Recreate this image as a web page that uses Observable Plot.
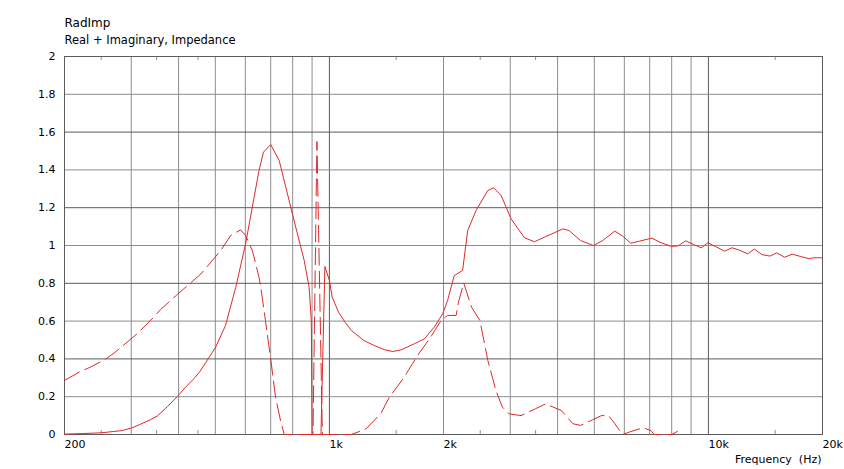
<!DOCTYPE html>
<html>
<head>
<meta charset="utf-8">
<script src="https://cdn.jsdelivr.net/npm/d3@7"></script>
<script src="https://cdn.jsdelivr.net/npm/@observablehq/plot@0.6"></script>
<style>
  html, body { margin: 0; padding: 0; background: #fff; }
  svg { font-family: "DejaVu Sans", sans-serif; }
</style>
</head>
<body>
<div id="chart"></div>
<script>
// Real part (solid)
const realFreq = [200,223,250,270,284,301,316,337,351,374,397,417,439,456,501,532,566,601,626,652,670,700,737,775,815,858,884,896,900,950,973,1000,1017,1057,1100,1143,1233,1313,1400,1468,1547,1675,1780,1891,1990,2050,2135,2246,2317,2437,2618,2712,2838,3016,3270,3476,3694,4130,4290,4600,4970,5260,5660,5960,6240,6580,7090,7450,7990,8320,8710,9140,9570,9970,10430,11040,11540,12020,12700,13220,13830,14540,15140,15880,16640,17510,18440,18900,20000];
const realVal = [0.002,0.005,0.009,0.016,0.021,0.035,0.053,0.078,0.097,0.148,0.201,0.250,0.295,0.335,0.462,0.577,0.779,1.009,1.203,1.397,1.494,1.534,1.450,1.273,1.097,0.921,0.779,0.600,0.0,0.0,0.889,0.815,0.727,0.647,0.594,0.550,0.497,0.471,0.448,0.439,0.448,0.480,0.506,0.568,0.639,0.709,0.841,0.868,1.079,1.185,1.291,1.305,1.265,1.141,1.041,1.020,1.044,1.088,1.079,1.026,1.000,1.026,1.076,1.048,1.012,1.023,1.039,1.017,0.995,0.998,1.025,1.005,0.988,1.014,0.995,0.970,0.988,0.977,0.956,0.981,0.952,0.944,0.961,0.938,0.954,0.942,0.930,0.935,0.935];

// Imaginary part (dashed)
const imagFreq = [200,220,232,255,270,296,311,344,358,397,413,458,517,549,583,601,626,652,659,678,700,721,743,760,905,927,940,958,1143,1250,1368,1440,1565,1720,1850,1970,2050,2160,2190,2262,2371,2495,2618,2750,2860,2980,3205,3494,3720,4090,4390,4600,4950,5220,5450,5650,5930,6170,6480,6740,7050,7190,7990,8280];
const imagVal = [0.286,0.333,0.353,0.395,0.430,0.497,0.533,0.621,0.660,0.741,0.771,0.849,0.974,1.053,1.083,1.053,0.974,0.832,0.779,0.603,0.400,0.197,0.074,0.0,0.0,1.55,0.9,0.0,0.0,0.03,0.112,0.198,0.295,0.427,0.515,0.603,0.630,0.630,0.700,0.801,0.674,0.603,0.392,0.233,0.145,0.109,0.100,0.136,0.162,0.127,0.057,0.048,0.078,0.100,0.100,0.060,0.0,0.012,0.026,0.035,0.021,0.0,0.0,0.016];

// Axis / grid
const xTickLabels = [200,500,1000,2000,5000,10000,20000];
const xLightGrid = [300,400,500,600,700,800,900,2000,3000,4000,5000,6000,7000,8000,9000];
const xDarkGrid = [1000,10000];
const xMinorTicks = [250,350,450,1500,2500,3500,15000];
const yTicks = [0,0.2,0.4,0.6,0.8,1,1.2,1.4,1.6,1.8,2];
const yLightGrid = [0.2,0.6,1.0,1.4,1.8];
const yDarkGrid = [0.4,0.8,1.2,1.6];

const real = realFreq.map((f,i) => ({f, v: realVal[i]}));
const imag = imagFreq.map((f,i) => ({f, v: imagVal[i]}));

const red = "#dc2a2a";
const light = "#8e8e8e";
const dark = "#5c5c5c";

const chart = Plot.plot({
  width: 844,
  height: 469,
  marginTop: 56,
  marginLeft: 64,
  marginRight: 22,
  marginBottom: 35,
  style: {fontFamily: "DejaVu Sans, sans-serif", fontSize: "11px", color: "#000", background: "#fff", overflow: "visible"},
  x: {type: "log", domain: [200, 20000], label: null},
  y: {domain: [0, 2], label: null},
  marks: [
    Plot.ruleX(xLightGrid, {stroke: light, strokeWidth: 1}),
    Plot.ruleX(xDarkGrid, {stroke: dark, strokeWidth: 1}),
    Plot.ruleY(yLightGrid, {stroke: light, strokeWidth: 1}),
    Plot.ruleY(yDarkGrid, {stroke: dark, strokeWidth: 1}),
    Plot.tickX(xMinorTicks, {x: d => d, insetTop: 374, stroke: light}),
    Plot.tickX(xMinorTicks, {x: d => d, insetBottom: 374, stroke: light}),
    Plot.frame({stroke: dark, strokeWidth: 1}),
    Plot.line(imag, {x: "f", y: "v", stroke: red, strokeWidth: 1, strokeDasharray: "17,6"}),
    Plot.line(real, {x: "f", y: "v", stroke: red, strokeWidth: 1}),
    Plot.axisX(xTickLabels, {
      anchor: "bottom", label: null, tickSize: 0, tickPadding: 6, textAnchor: "start",
      tickFormat: d => d >= 1000 ? (d/1000) + "k" : String(d), fill: "#000", fontSize: 11
    }),
    Plot.axisY(yTicks, {
      anchor: "left", label: null, tickSize: 0, tickPadding: 9,
      tickFormat: d => String(+d.toFixed(1)), fill: "#000", fontSize: 11
    }),
    Plot.text(["RadImp"], {frameAnchor: "top-left", dy: -30, textAnchor: "start", lineAnchor: "bottom", fontSize: 12, fill: "#000"}),
    Plot.text(["Real + Imaginary, Impedance"], {frameAnchor: "top-left", dy: -13, textAnchor: "start", lineAnchor: "bottom", fontSize: 11.5, fill: "#000"}),
    Plot.text(["Frequency\u00a0 (Hz)"], {frameAnchor: "bottom-right", dy: 28, dx: -1, textAnchor: "end", lineAnchor: "bottom", fontSize: 11, fill: "#000"})
  ]
});
document.getElementById("chart").appendChild(chart);
</script>
</body>
</html>
